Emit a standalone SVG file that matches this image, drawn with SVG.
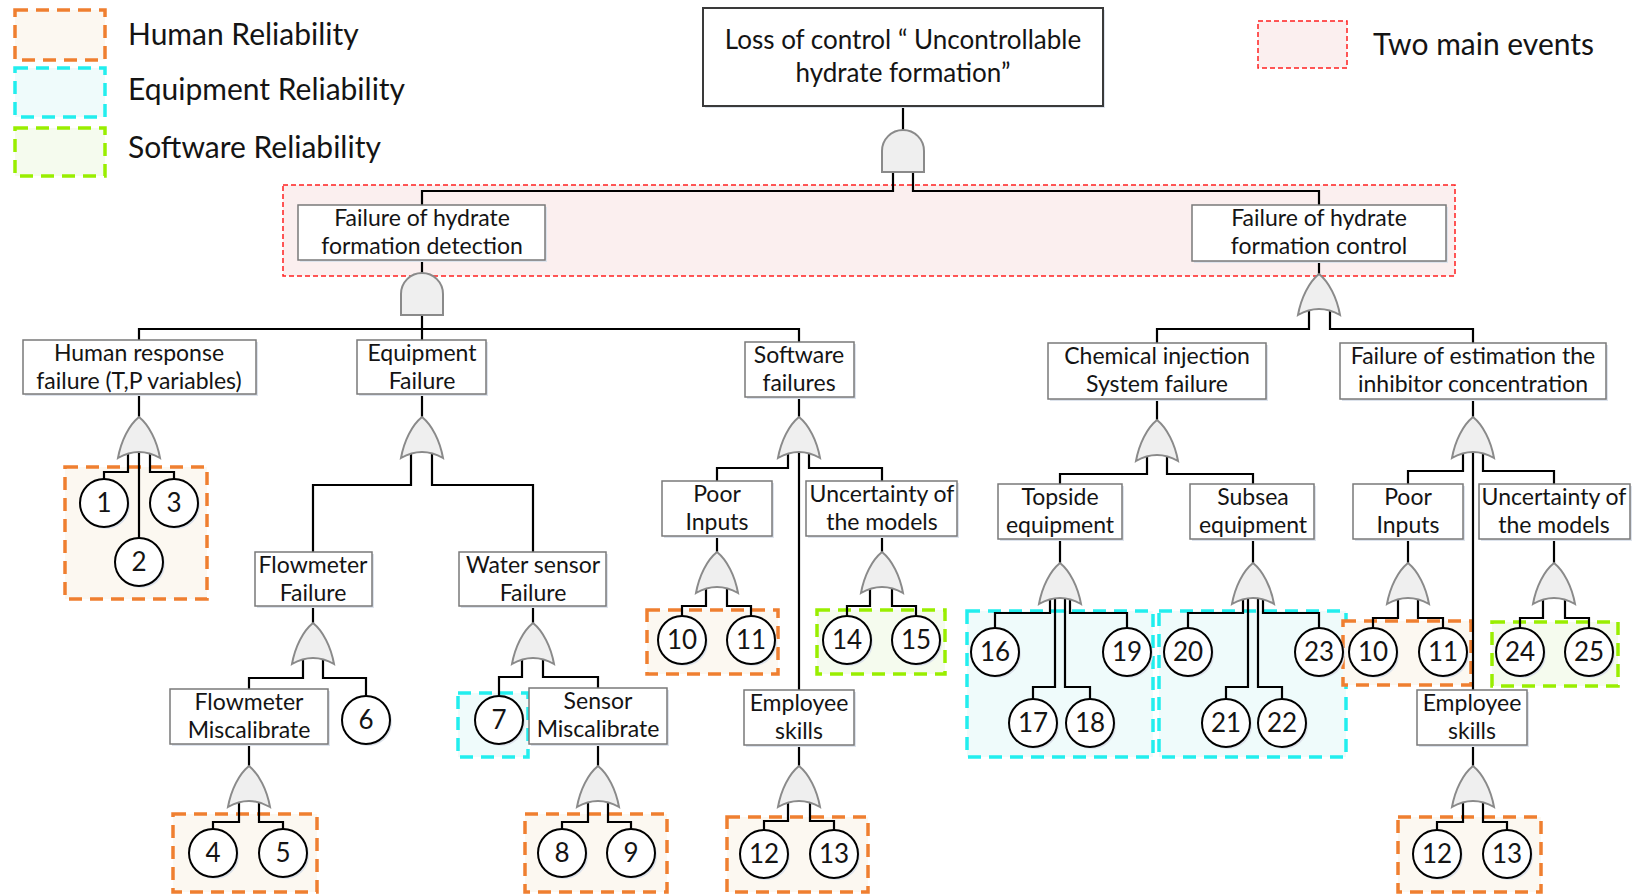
<svg xmlns="http://www.w3.org/2000/svg" width="1641" height="894" viewBox="0 0 1641 894">
  <style>
    .box { fill: #ffffff; stroke: #7a7a7a; stroke-width: 1.5; }
    .sh { fill: #dde3ec; }
    .t { font-family: Lato, "Liberation Sans", sans-serif; font-size: 23px; text-anchor: middle; fill: #141414; }
    .tt { font-family: Lato, "Liberation Sans", sans-serif; font-size: 26px; text-anchor: middle; fill: #141414; }
    .lg { font-family: Lato, "Liberation Sans", sans-serif; font-size: 30px; fill: #141414; }
    .num { font-family: Lato, "Liberation Sans", sans-serif; font-size: 26px; text-anchor: middle; fill: #141414; }
    .ev { fill: #ffffff; stroke: #000000; stroke-width: 2; }
    .gate { fill: #efefef; stroke: #8a8a8a; stroke-width: 2; }
    .wire { fill: none; stroke: #000000; stroke-width: 2.2; }
    .hum { fill: #fcf8f1; stroke: #ef7f30; stroke-width: 3.5; stroke-dasharray: 13 8; }
    .equ { fill: #effbfb; stroke: #22eeee; stroke-width: 3.5; stroke-dasharray: 13 8; }
    .sw { fill: #f5fbee; stroke: #99ee00; stroke-width: 3.5; stroke-dasharray: 13 8; }
    .mainev { fill: #fbefef; stroke: #ff2020; stroke-width: 1.5; stroke-dasharray: 5 3; }
  </style>
  <defs>
    <!-- OR gate, origin at the apex -->
    <path id="or" class="gate" d="M0,0 C10,8 18,24 21,41 Q0,29 -21,41 C-18,24 -10,8 0,0 Z"/>
    <!-- AND gate, origin at the top centre -->
    <path id="and" class="gate" d="M-21,42 V21 A21,21 0 0 1 21,21 V42 Z"/>
  </defs>

  <rect width="1641" height="894" fill="#ffffff"/>

  <!-- legend -->
  <g id="legend">
    <rect class="hum" x="15" y="10" width="90" height="50"/>
    <text class="lg" x="128" y="45">Human Reliability</text>
    <rect class="equ" x="15" y="68" width="90" height="49"/>
    <text class="lg" x="128" y="100">Equipment Reliability</text>
    <rect class="sw" x="15" y="128" width="90" height="48"/>
    <text class="lg" x="128" y="158">Software Reliability</text>
    <rect class="mainev" x="1258" y="21" width="89" height="47"/>
    <text class="lg" x="1373" y="55">Two main events</text>
  </g>

  <!-- shaded groupings of basic events -->
  <g id="groups">
    <rect class="mainev" x="283" y="185" width="1172" height="91"/>
    <rect class="hum" x="65" y="467" width="142" height="132"/>
    <rect class="hum" x="173" y="814" width="144" height="78"/>
    <rect class="equ" x="458" y="693" width="70" height="64"/>
    <rect class="hum" x="525" y="814" width="142" height="78"/>
    <rect class="hum" x="647" y="610" width="131" height="64"/>
    <rect class="sw" x="817" y="610" width="128" height="64"/>
    <rect class="hum" x="727" y="817" width="141" height="75"/>
    <rect class="equ" x="967" y="611" width="186" height="146"/>
    <rect class="equ" x="1159" y="611" width="187" height="146"/>
    <rect class="hum" x="1343" y="621" width="128" height="64"/>
    <rect class="sw" x="1492" y="622" width="126" height="64"/>
    <rect class="hum" x="1398" y="817" width="143" height="75"/>
  </g>

  <!-- connectors -->
  <g id="connectors" class="wire">
    <path d="M903,106 V140"/>
    <path d="M893,160 V191 H422 V205"/>
    <path d="M913,160 V191 H1319 V205"/>

    <path d="M422,260 V280"/>
    <path d="M422,305 V340"/>
    <path d="M139,340 V329 H799 V342"/>

    <path d="M1319,261 V280"/>
    <path d="M1309,300 V329 H1157 V343"/>
    <path d="M1330,300 V329 H1473 V343"/>

    <path d="M139,394 V420"/>
    <path d="M128,445 V472 H104 V479"/>
    <path d="M139,445 V538"/>
    <path d="M150,445 V472 H174 V479"/>

    <path d="M422,396 V420"/>
    <path d="M411,445 V485 H313 V552"/>
    <path d="M432,445 V485 H533 V552"/>

    <path d="M313,606 V626"/>
    <path d="M303,651 V678 H249 V689"/>
    <path d="M323,651 V678 H366 V696"/>
    <path d="M249,744 V770"/>
    <path d="M239,794 V822 H213 V829"/>
    <path d="M259,794 V822 H283 V829"/>

    <path d="M533,606 V626"/>
    <path d="M522,651 V677 H499 V696"/>
    <path d="M543,651 V677 H598 V688"/>
    <path d="M598,744 V770"/>
    <path d="M588,794 V822 H562 V829"/>
    <path d="M608,794 V822 H631 V829"/>

    <path d="M799,397 V420"/>
    <path d="M788,445 V468 H717 V481"/>
    <path d="M799,445 V690"/>
    <path d="M809,445 V468 H882 V481"/>
    <path d="M717,536 V556"/>
    <path d="M706,580 V606 H682 V616"/>
    <path d="M727,580 V606 H751 V616"/>
    <path d="M882,536 V556"/>
    <path d="M870,580 V606 H847 V616"/>
    <path d="M892,580 V606 H916 V616"/>
    <path d="M799,745 V770"/>
    <path d="M788,794 V821 H764 V830"/>
    <path d="M810,794 V821 H834 V830"/>

    <path d="M1157,399 V424"/>
    <path d="M1147,448 V474 H1060 V484"/>
    <path d="M1167,448 V474 H1253 V484"/>
    <path d="M1060,539 V567"/>
    <path d="M1050,591 V613 H995 V628"/>
    <path d="M1055,591 V687 H1033 V699"/>
    <path d="M1065,591 V687 H1090 V699"/>
    <path d="M1070,591 V613 H1127 V628"/>
    <path d="M1253,539 V567"/>
    <path d="M1243,591 V613 H1188 V628"/>
    <path d="M1248,591 V687 H1226 V699"/>
    <path d="M1258,591 V687 H1282 V699"/>
    <path d="M1263,591 V613 H1319 V628"/>

    <path d="M1473,399 V420"/>
    <path d="M1463,445 V471 H1408 V484"/>
    <path d="M1473,445 V690"/>
    <path d="M1483,445 V471 H1554 V484"/>
    <path d="M1408,539 V567"/>
    <path d="M1398,591 V618 H1373 V628"/>
    <path d="M1418,591 V618 H1443 V628"/>
    <path d="M1554,539 V567"/>
    <path d="M1543,591 V618 H1520 V628"/>
    <path d="M1565,591 V618 H1589 V628"/>
    <path d="M1473,745 V770"/>
    <path d="M1463,794 V822 H1437 V830"/>
    <path d="M1483,794 V822 H1507 V830"/>
  </g>

  <!-- gates -->
  <g id="gates">
    <use href="#and" transform="translate(903,130)"/>
    <use href="#and" transform="translate(422,273)"/>
    <use href="#or" transform="translate(1319,274)"/>
    <use href="#or" transform="translate(139,417)"/>
    <use href="#or" transform="translate(422,417)"/>
    <use href="#or" transform="translate(313,623)"/>
    <use href="#or" transform="translate(249,766)"/>
    <use href="#or" transform="translate(533,623)"/>
    <use href="#or" transform="translate(598,766)"/>
    <use href="#or" transform="translate(799,417)"/>
    <use href="#or" transform="translate(717,552)"/>
    <use href="#or" transform="translate(882,552)"/>
    <use href="#or" transform="translate(799,766)"/>
    <use href="#or" transform="translate(1157,420)"/>
    <use href="#or" transform="translate(1060,563)"/>
    <use href="#or" transform="translate(1253,563)"/>
    <use href="#or" transform="translate(1473,417)"/>
    <use href="#or" transform="translate(1408,563)"/>
    <use href="#or" transform="translate(1554,563)"/>
    <use href="#or" transform="translate(1473,766)"/>
  </g>

  <!-- events -->
  <g id="top-event">
    <rect class="sh" x="705" y="10" width="400" height="98"/>
    <rect class="box" x="703" y="8" width="400" height="98" style="stroke:#3a3a3a;stroke-width:2"/>
    <text class="tt" x="903" y="49">Loss of control “ Uncontrollable</text>
    <text class="tt" x="903" y="82">hydrate formation”</text>
  </g>
  <g id="detection">
    <rect class="sh" x="300" y="207" width="247" height="55"/>
    <rect class="box" x="298" y="205" width="247" height="55"/>
    <text class="t" x="422" y="226">Failure of hydrate</text>
    <text class="t" x="422" y="254">formation detection</text>
  </g>
  <g id="control">
    <rect class="sh" x="1194" y="207" width="254" height="56"/>
    <rect class="box" x="1192" y="205" width="254" height="56"/>
    <text class="t" x="1319" y="226">Failure of hydrate</text>
    <text class="t" x="1319" y="254">formation control</text>
  </g>
  <g id="human-response">
    <rect class="sh" x="25" y="342" width="233" height="54"/>
    <rect class="box" x="23" y="340" width="233" height="54"/>
    <text class="t" x="139" y="361">Human response</text>
    <text class="t" x="139" y="389">failure (T,P variables)</text>
  </g>
  <g id="equipment">
    <rect class="sh" x="359" y="342" width="129" height="54"/>
    <rect class="box" x="357" y="340" width="129" height="54"/>
    <text class="t" x="422" y="361">Equipment</text>
    <text class="t" x="422" y="389">Failure</text>
  </g>
  <g id="software">
    <rect class="sh" x="747" y="344" width="109" height="55"/>
    <rect class="box" x="745" y="342" width="109" height="55"/>
    <text class="t" x="799" y="363">Software</text>
    <text class="t" x="799" y="391">failures</text>
  </g>
  <g id="chemical">
    <rect class="sh" x="1050" y="345" width="218" height="56"/>
    <rect class="box" x="1048" y="343" width="218" height="56"/>
    <text class="t" x="1157" y="364">Chemical injection</text>
    <text class="t" x="1157" y="392">System failure</text>
  </g>
  <g id="estimation">
    <rect class="sh" x="1342" y="345" width="266" height="56"/>
    <rect class="box" x="1340" y="343" width="266" height="56"/>
    <text class="t" x="1473" y="364">Failure of estimation the</text>
    <text class="t" x="1473" y="392">inhibitor concentration</text>
  </g>
  <g id="flowmeter">
    <rect class="sh" x="257" y="554" width="117" height="54"/>
    <rect class="box" x="255" y="552" width="117" height="54"/>
    <text class="t" x="313" y="573">Flowmeter</text>
    <text class="t" x="313" y="601">Failure</text>
  </g>
  <g id="water-sensor">
    <rect class="sh" x="461" y="554" width="147" height="54"/>
    <rect class="box" x="459" y="552" width="147" height="54"/>
    <text class="t" x="533" y="573">Water sensor</text>
    <text class="t" x="533" y="601">Failure</text>
  </g>
  <g id="flowmeter-miscal">
    <rect class="sh" x="172" y="691" width="158" height="55"/>
    <rect class="box" x="170" y="689" width="158" height="55"/>
    <text class="t" x="249" y="710">Flowmeter</text>
    <text class="t" x="249" y="738">Miscalibrate</text>
  </g>
  <g id="sensor-miscal">
    <rect class="sh" x="531" y="690" width="138" height="56"/>
    <rect class="box" x="529" y="688" width="138" height="56"/>
    <text class="t" x="598" y="709">Sensor</text>
    <text class="t" x="598" y="737">Miscalibrate</text>
  </g>
  <g id="poor-inputs-1">
    <rect class="sh" x="664" y="483" width="110" height="55"/>
    <rect class="box" x="662" y="481" width="110" height="55"/>
    <text class="t" x="717" y="502">Poor</text>
    <text class="t" x="717" y="530">Inputs</text>
  </g>
  <g id="uncertainty-1">
    <rect class="sh" x="808" y="483" width="151" height="55"/>
    <rect class="box" x="806" y="481" width="151" height="55"/>
    <text class="t" x="882" y="502">Uncertainty of</text>
    <text class="t" x="882" y="530">the models</text>
  </g>
  <g id="employee-1">
    <rect class="sh" x="746" y="692" width="110" height="55"/>
    <rect class="box" x="744" y="690" width="110" height="55"/>
    <text class="t" x="799" y="711">Employee</text>
    <text class="t" x="799" y="739">skills</text>
  </g>
  <g id="topside">
    <rect class="sh" x="1000" y="486" width="124" height="55"/>
    <rect class="box" x="998" y="484" width="124" height="55"/>
    <text class="t" x="1060" y="505">Topside</text>
    <text class="t" x="1060" y="533">equipment</text>
  </g>
  <g id="subsea">
    <rect class="sh" x="1192" y="486" width="124" height="55"/>
    <rect class="box" x="1190" y="484" width="124" height="55"/>
    <text class="t" x="1253" y="505">Subsea</text>
    <text class="t" x="1253" y="533">equipment</text>
  </g>
  <g id="poor-inputs-2">
    <rect class="sh" x="1355" y="486" width="110" height="55"/>
    <rect class="box" x="1353" y="484" width="110" height="55"/>
    <text class="t" x="1408" y="505">Poor</text>
    <text class="t" x="1408" y="533">Inputs</text>
  </g>
  <g id="uncertainty-2">
    <rect class="sh" x="1481" y="486" width="151" height="55"/>
    <rect class="box" x="1479" y="484" width="151" height="55"/>
    <text class="t" x="1554" y="505">Uncertainty of</text>
    <text class="t" x="1554" y="533">the models</text>
  </g>
  <g id="employee-2">
    <rect class="sh" x="1419" y="692" width="110" height="55"/>
    <rect class="box" x="1417" y="690" width="110" height="55"/>
    <text class="t" x="1472" y="711">Employee</text>
    <text class="t" x="1472" y="739">skills</text>
  </g>

  <!-- basic events -->
  <g id="be-1"><circle class="sh" cx="106" cy="505" r="24"/><circle class="ev" cx="104" cy="503" r="24"/><text class="num" x="104" y="512">1</text></g>
  <g id="be-2"><circle class="sh" cx="141" cy="564" r="24"/><circle class="ev" cx="139" cy="562" r="24"/><text class="num" x="139" y="571">2</text></g>
  <g id="be-3"><circle class="sh" cx="176" cy="505" r="24"/><circle class="ev" cx="174" cy="503" r="24"/><text class="num" x="174" y="512">3</text></g>
  <g id="be-4"><circle class="sh" cx="215" cy="855" r="24"/><circle class="ev" cx="213" cy="853" r="24"/><text class="num" x="213" y="862">4</text></g>
  <g id="be-5"><circle class="sh" cx="285" cy="855" r="24"/><circle class="ev" cx="283" cy="853" r="24"/><text class="num" x="283" y="862">5</text></g>
  <g id="be-6"><circle class="sh" cx="368" cy="722" r="24"/><circle class="ev" cx="366" cy="720" r="24"/><text class="num" x="366" y="729">6</text></g>
  <g id="be-7"><circle class="sh" cx="501" cy="722" r="24"/><circle class="ev" cx="499" cy="720" r="24"/><text class="num" x="499" y="729">7</text></g>
  <g id="be-8"><circle class="sh" cx="564" cy="855" r="24"/><circle class="ev" cx="562" cy="853" r="24"/><text class="num" x="562" y="862">8</text></g>
  <g id="be-9"><circle class="sh" cx="633" cy="855" r="24"/><circle class="ev" cx="631" cy="853" r="24"/><text class="num" x="631" y="862">9</text></g>
  <g id="be-10a"><circle class="sh" cx="684" cy="642" r="24"/><circle class="ev" cx="682" cy="640" r="24"/><text class="num" x="682" y="649">10</text></g>
  <g id="be-11a"><circle class="sh" cx="753" cy="642" r="24"/><circle class="ev" cx="751" cy="640" r="24"/><text class="num" x="751" y="649">11</text></g>
  <g id="be-14"><circle class="sh" cx="849" cy="642" r="24"/><circle class="ev" cx="847" cy="640" r="24"/><text class="num" x="847" y="649">14</text></g>
  <g id="be-15"><circle class="sh" cx="918" cy="642" r="24"/><circle class="ev" cx="916" cy="640" r="24"/><text class="num" x="916" y="649">15</text></g>
  <g id="be-12a"><circle class="sh" cx="766" cy="856" r="24"/><circle class="ev" cx="764" cy="854" r="24"/><text class="num" x="764" y="863">12</text></g>
  <g id="be-13a"><circle class="sh" cx="836" cy="856" r="24"/><circle class="ev" cx="834" cy="854" r="24"/><text class="num" x="834" y="863">13</text></g>
  <g id="be-16"><circle class="sh" cx="997" cy="654" r="24"/><circle class="ev" cx="995" cy="652" r="24"/><text class="num" x="995" y="661">16</text></g>
  <g id="be-17"><circle class="sh" cx="1035" cy="725" r="24"/><circle class="ev" cx="1033" cy="723" r="24"/><text class="num" x="1033" y="732">17</text></g>
  <g id="be-18"><circle class="sh" cx="1092" cy="725" r="24"/><circle class="ev" cx="1090" cy="723" r="24"/><text class="num" x="1090" y="732">18</text></g>
  <g id="be-19"><circle class="sh" cx="1129" cy="654" r="24"/><circle class="ev" cx="1127" cy="652" r="24"/><text class="num" x="1127" y="661">19</text></g>
  <g id="be-20"><circle class="sh" cx="1190" cy="654" r="24"/><circle class="ev" cx="1188" cy="652" r="24"/><text class="num" x="1188" y="661">20</text></g>
  <g id="be-21"><circle class="sh" cx="1228" cy="725" r="24"/><circle class="ev" cx="1226" cy="723" r="24"/><text class="num" x="1226" y="732">21</text></g>
  <g id="be-22"><circle class="sh" cx="1284" cy="725" r="24"/><circle class="ev" cx="1282" cy="723" r="24"/><text class="num" x="1282" y="732">22</text></g>
  <g id="be-23"><circle class="sh" cx="1321" cy="654" r="24"/><circle class="ev" cx="1319" cy="652" r="24"/><text class="num" x="1319" y="661">23</text></g>
  <g id="be-10b"><circle class="sh" cx="1375" cy="654" r="24"/><circle class="ev" cx="1373" cy="652" r="24"/><text class="num" x="1373" y="661">10</text></g>
  <g id="be-11b"><circle class="sh" cx="1445" cy="654" r="24"/><circle class="ev" cx="1443" cy="652" r="24"/><text class="num" x="1443" y="661">11</text></g>
  <g id="be-24"><circle class="sh" cx="1522" cy="654" r="24"/><circle class="ev" cx="1520" cy="652" r="24"/><text class="num" x="1520" y="661">24</text></g>
  <g id="be-25"><circle class="sh" cx="1591" cy="654" r="24"/><circle class="ev" cx="1589" cy="652" r="24"/><text class="num" x="1589" y="661">25</text></g>
  <g id="be-12b"><circle class="sh" cx="1439" cy="856" r="24"/><circle class="ev" cx="1437" cy="854" r="24"/><text class="num" x="1437" y="863">12</text></g>
  <g id="be-13b"><circle class="sh" cx="1509" cy="856" r="24"/><circle class="ev" cx="1507" cy="854" r="24"/><text class="num" x="1507" y="863">13</text></g>
</svg>
